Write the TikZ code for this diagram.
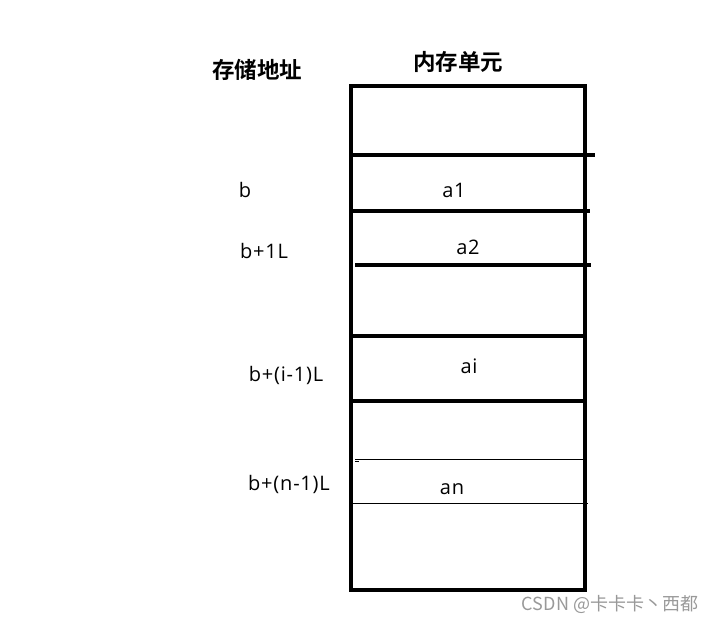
\documentclass[tikz,border=0pt]{standalone}
\usepackage{fontspec}
\setmainfont{Noto Sans CJK SC}
\newfontfamily\cjkb{Noto Sans CJK SC Bold}
\newfontfamily\labfont[LetterSpace=4]{Open Sans}
\begin{document}
\begin{tikzpicture}[x=1pt,y=-1pt,
  thick line/.style={line width=4pt},
  thin line/.style={line width=1pt},
  label/.style={font=\labfont\fontsize{20}{20}\selectfont, inner sep=0pt},
  title/.style={font=\cjkb\fontsize{22.5}{22.5}\selectfont, inner sep=0pt},
  mark text/.style={font=\fontsize{18}{18}\selectfont, text=black!40, inner sep=0pt}]
\useasboundingbox[fill=white] (0,0) rectangle (716,622);
\node[title] (t1) at (257,70) {存储地址};
\node[title] (t2) at (458,62) {内存单元};
\draw[thick line] (351,86) rectangle (585,590);
\draw[thick line] (351,155) -- (595,155);
\draw[thick line] (351,211) -- (590,211);
\draw[thick line] (355,265) -- (591,265);
\draw[thick line] (351,336) -- (585,336);
\draw[thick line] (351,401) -- (585,401);
\draw[thin line] (355,459) -- (583,459);
\draw[thin line] (355,461.5) -- (359,461.5);
\draw[thin line] (351,503) -- (588,503);
\node[label] (b0) at (245,190) {b};
\node[label] (b1) at (264,251) {b+1L};
\node[label] (bi) at (286,375) {b+(i-1)L};
\node[label] (bn) at (289,484) {b+(n-1)L};
\node[label] (a1) at (454,190) {a1};
\node[label] (a2) at (468,247) {a2};
\node[label] (ai) at (469,366) {ai};
\node[label] (an) at (452,489) {an};
\node[mark text] (wm) at (610,604) {CSDN @卡卡卡丶西都};
\end{tikzpicture}
\end{document}
